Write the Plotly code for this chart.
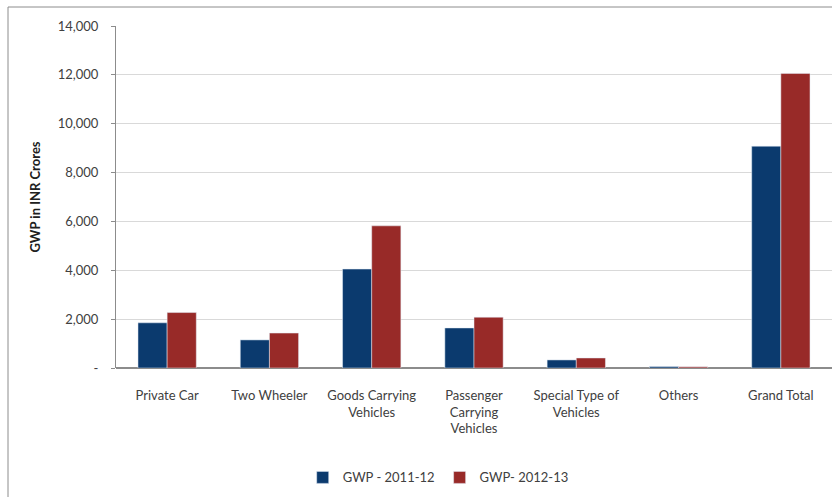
import plotly.graph_objects as go

categories = ["Private Car", "Two Wheeler", "Goods Carrying<br>Vehicles",
              "Passenger<br>Carrying<br>Vehicles", "Special Type of<br>Vehicles",
              "Others", "Grand Total"]
gwp_2011_12 = [1850, 1150, 4050, 1640, 330, 60, 9080]
gwp_2012_13 = [2270, 1430, 5820, 2080, 410, 50, 12060]
tick_vals = [0, 2000, 4000, 6000, 8000, 10000, 12000, 14000]
tick_text = ["-", "2,000", "4,000", "6,000", "8,000", "10,000", "12,000", "14,000"]

fig = go.Figure()
fig.add_trace(go.Bar(x=categories, y=gwp_2011_12, name="GWP - 2011-12",
                     marker=dict(color="#0b3a6e")))
fig.add_trace(go.Bar(x=categories, y=gwp_2012_13, name="GWP- 2012-13",
                     marker=dict(color="#982a28")))

fig.update_layout(
    width=832, height=497,
    margin=dict(l=116, r=0, t=26, b=129),
    paper_bgcolor="white", plot_bgcolor="white",
    font=dict(family="Lato, Noto Sans, sans-serif", size=13, color="#404040"),
    barmode="group", bargap=0.43, bargroupgap=0,
    showlegend=True,
    legend=dict(orientation="h", x=0.45, xanchor="center", y=-0.32, yanchor="middle",
                itemwidth=30, font=dict(size=13, color="#404040"), traceorder="normal"),
    xaxis=dict(showgrid=False, showline=False, ticks="outside", ticklen=15,
               tickcolor="rgba(0,0,0,0)", tickfont=dict(size=13, color="#404040")),
    yaxis=dict(range=[0, 14000], tickvals=tick_vals, ticktext=tick_text,
               showgrid=True, gridcolor="#d9d9d9", gridwidth=1,
               showline=True, linecolor="#8c8c8c", ticks="outside", ticklen=4,
               tickcolor="#8c8c8c", zeroline=True, zerolinecolor="#8c8c8c",
               ticklabelstandoff=10,
               tickfont=dict(size=13, color="#404040"),
               title=dict(text="<b>GWP in INR Crores</b>", font=dict(size=13, color="#202020"),
                          standoff=14)),
    shapes=[dict(type="rect", xref="paper", yref="paper",
                 x0=(8 - 116) / 716, x1=1.05, y0=-0.6, y1=1 + (26 - 7) / 342,
                 line=dict(color="#8c8c8c", width=1), fillcolor="rgba(0,0,0,0)",
                 layer="below")],
)

fig.write_html("out.html")
